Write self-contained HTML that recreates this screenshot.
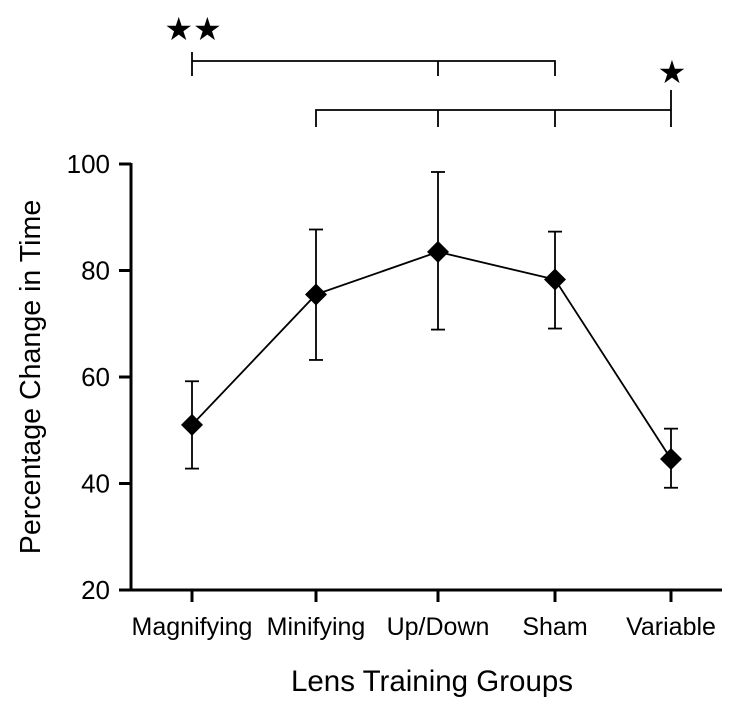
<!DOCTYPE html>
<html><head><meta charset="utf-8"><style>
html,body{margin:0;padding:0;background:#fff;}
svg{display:block;font-family:"Liberation Sans",Arial,sans-serif;}
</style></head><body>
<svg id="chart" width="746" height="704" viewBox="0 0 746 704" xmlns="http://www.w3.org/2000/svg">
<g id="axes"></g>
<g id="marks"></g>
<g id="sig"></g>
<text x="432" y="691" font-size="29.5" text-anchor="middle">Lens Training Groups</text>
<text transform="translate(40,377) rotate(-90)" font-size="28.6" text-anchor="middle">Percentage Change in Time</text>
</svg>
<script>
const categories = ["Magnifying","Minifying","Up/Down","Sham","Variable"];
const means = [51, 75.5, 83.5, 78.3, 44.6];
const errUpper = [59.2, 87.7, 98.5, 87.3, 50.3];
const errLower = [42.8, 63.2, 68.9, 69.1, 39.2];
const yTicks = [20, 40, 60, 80, 100];
const NS = "http://www.w3.org/2000/svg";
const xPos = [192, 316, 438, 555, 671];
function x(i){ return xPos[i]; }
function y(v){ return 590 - (v - 20) * 5.325; }
function mk(parent, tag, attrs){ const e=document.createElementNS(NS,tag); for(const k in attrs) e.setAttribute(k,attrs[k]); parent.appendChild(e); return e; }
const axes=document.getElementById('axes');
let e=mk(axes,'line',{x1:131,y1:y(100)-1,x2:131,y2:591.5,stroke:'#000','stroke-width':3});
 
e=mk(axes,'line',{x1:129.5,y1:590,x2:722,y2:590,stroke:'#000','stroke-width':3});
 
yTicks.forEach(t=>{
  const l=mk(axes,'line',{x1:119,y1:y(t),x2:131,y2:y(t),stroke:'#000','stroke-width':3});
   
  const tx=mk(axes,'text',{x:110,y:y(t)+9,'font-size':26,'text-anchor':'end'}); tx.textContent=t;
   
});
categories.forEach((c,i)=>{
  const l=mk(axes,'line',{x1:x(i),y1:590,x2:x(i),y2:602,stroke:'#000','stroke-width':3});
   
  const tx=mk(axes,'text',{x:x(i),y:635,'font-size':25,'text-anchor':'middle'}); tx.textContent=c;
   
});
const marks=document.getElementById('marks');
const pl=mk(marks,'polyline',{points:means.map((m,i)=>x(i)+','+y(m)).join(' '),fill:'none',stroke:'#000','stroke-width':1.8});
 
means.forEach((m,i)=>{
  const g=mk(marks,'g',{});
  
  
  mk(g,'line',{x1:x(i),y1:y(errUpper[i]),x2:x(i),y2:y(errLower[i]),stroke:'#000','stroke-width':1.8});
  mk(g,'line',{x1:x(i)-7,y1:y(errUpper[i]),x2:x(i)+7,y2:y(errUpper[i]),stroke:'#000','stroke-width':1.8});
  mk(g,'line',{x1:x(i)-7,y1:y(errLower[i]),x2:x(i)+7,y2:y(errLower[i]),stroke:'#000','stroke-width':1.8});
  const cx=x(i), cy=y(m);
  const p=mk(marks,'polygon',{points:`${cx},${cy-11} ${cx+11},${cy} ${cx},${cy+11} ${cx-11},${cy}`,fill:'#000'});
  
  
});
const sig=document.getElementById('sig');
const s='stroke="#000" stroke-width="1.8" fill="none"';
sig.innerHTML=`
<path ${s} d="M192,52 V76 M192,61 H555 V76 M438,61 V76"/>
<path ${s} d="M316,127 V110 H671 M671,90 V127 M438,110 V127 M555,110 V127"/>
<text x="193" y="40" font-size="32" text-anchor="middle" font-family="DejaVu Sans">★★</text>
<text x="672" y="83" font-size="32" text-anchor="middle" font-family="DejaVu Sans">★</text>`;
</script>
</body></html>
